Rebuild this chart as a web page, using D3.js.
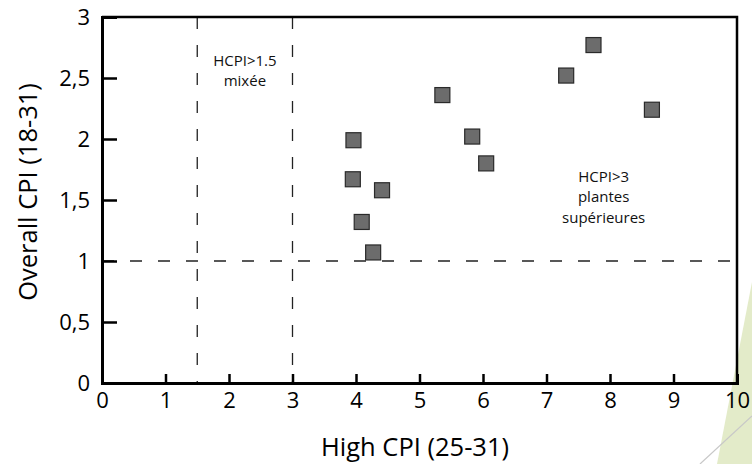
<!DOCTYPE html>
<html>
<head>
<meta charset="utf-8">
<script src="https://cdn.jsdelivr.net/npm/d3@7"></script>
<style>
  html, body { margin: 0; padding: 0; background: #fff; }
  svg { display: block; font-family: "Open Sans", sans-serif; }
</style>
</head>
<body>
<svg id="chart" width="752" height="464"></svg>
<script>
// Samples: high-range CPI (25-31) vs overall CPI (18-31)
const highCPI    = [7.74, 7.31, 5.36, 8.66, 3.96, 5.83, 6.05, 3.95, 4.41, 4.09, 4.27];
const overallCPI = [2.77, 2.52, 2.36, 2.24, 1.99, 2.02, 1.80, 1.67, 1.58, 1.32, 1.07];

const xTicks = [0, 1, 2, 3, 4, 5, 6, 7, 8, 9, 10];
const yTicks = [0, 0.5, 1, 1.5, 2, 2.5, 3];

// Threshold lines
const xThresholds = [1.5, 3];
const yThresholds = [1];

// Zone annotations: [x, y, lines]
const zoneX = [2.25, 7.9];
const zoneY = [2.6, 1.65];
const zoneText = [["HCPI>1.5", "mixée"], ["HCPI>3", "plantes", "supérieures"]];

const svg = d3.select("#chart");
const margin = { left: 102, right: 15, top: 17, bottom: 81 };
const W = 752, H = 464;

const x = d3.scaleLinear().domain([0, 10]).range([margin.left, W - margin.right]);
const y = d3.scaleLinear().domain([0, 3]).range([H - margin.bottom, margin.top]);

const fmt = d => String(d).replace(".", ",");

// Decorative background wedge
svg.append("polygon")
  .attr("points", "752,282 752,464 717,464")
  .attr("fill", "#e3ebc9");
svg.append("line")
  .attr("x1", 752).attr("y1", 416).attr("x2", 700).attr("y2", 464)
  .attr("stroke", "#c8c8c8").attr("stroke-width", 1.2);

// Threshold dashed lines
const dash = "12,16";
svg.selectAll("line.vthr").data(xThresholds).join("line")
  .attr("class", "vthr")
  .attr("x1", d => x(d)).attr("x2", d => x(d))
  .attr("y1", y(3)).attr("y2", y(0))
  .attr("stroke", "#222").attr("stroke-width", 1.3)
  .attr("stroke-dasharray", dash);
svg.selectAll("line.hthr").data(yThresholds).join("line")
  .attr("class", "hthr")
  .attr("x1", x(0)).attr("x2", x(10))
  .attr("y1", d => y(d)).attr("y2", d => y(d))
  .attr("stroke", "#222").attr("stroke-width", 1.3)
  .attr("stroke-dasharray", dash);

// Frame (top and right)
svg.append("path")
  .attr("d", `M${x(0)},${y(3)}H${x(10)}V${y(0)}`)
  .attr("fill", "none").attr("stroke", "#000").attr("stroke-width", 2.5);

// Axes with inward ticks
const xAxis = svg.append("g")
  .attr("transform", `translate(0,${y(0)})`)
  .call(d3.axisBottom(x).tickValues(xTicks).tickFormat(fmt).tickSize(-9).tickPadding(13));
const yAxis = svg.append("g")
  .attr("transform", `translate(${x(0)},0)`)
  .call(d3.axisLeft(y).tickValues(yTicks).tickFormat(fmt).tickSize(-15).tickPadding(12));

[xAxis, yAxis].forEach(g => {
  g.select(".domain").attr("stroke", "#000").attr("stroke-width", 3);
  g.selectAll(".tick line").attr("stroke", "#000").attr("stroke-width", 2.5);
  g.selectAll(".tick text")
    .attr("fill", "#000")
    .style("font-family", "'Open Sans', sans-serif")
    .style("font-size", "22px");
});
xAxis.selectAll(".tick text").attr("dy", "0.55em");

// Axis titles
svg.append("text")
  .attr("x", 415).attr("y", 456)
  .attr("text-anchor", "middle")
  .style("font-size", "25.5px")
  .text("High CPI (25-31)");
svg.append("text")
  .attr("transform", `translate(37,192) rotate(-90)`)
  .attr("text-anchor", "middle")
  .style("font-size", "25.5px")
  .text("Overall CPI (18-31)");

// Zone annotations
zoneText.forEach((lines, i) => {
  const t = svg.append("text")
    .attr("text-anchor", "middle")
    .style("font-size", "15px")
    .attr("fill", "#111");
  lines.forEach((s, j) => {
    t.append("tspan")
      .attr("x", x(zoneX[i]))
      .attr("y", y(zoneY[i]) + j * 20.5)
      .text(s);
  });
});

// Data points as squares
const s = 15;
svg.selectAll("rect.pt").data(highCPI).join("rect")
  .attr("class", "pt")
  .attr("x", (d, i) => x(d) - s / 2)
  .attr("y", (d, i) => y(overallCPI[i]) - s / 2)
  .attr("width", s).attr("height", s)
  .attr("fill", "#6c6c6c")
  .attr("stroke", "#2a2a2a")
  .attr("stroke-width", 1.2);
</script>
</body>
</html>
